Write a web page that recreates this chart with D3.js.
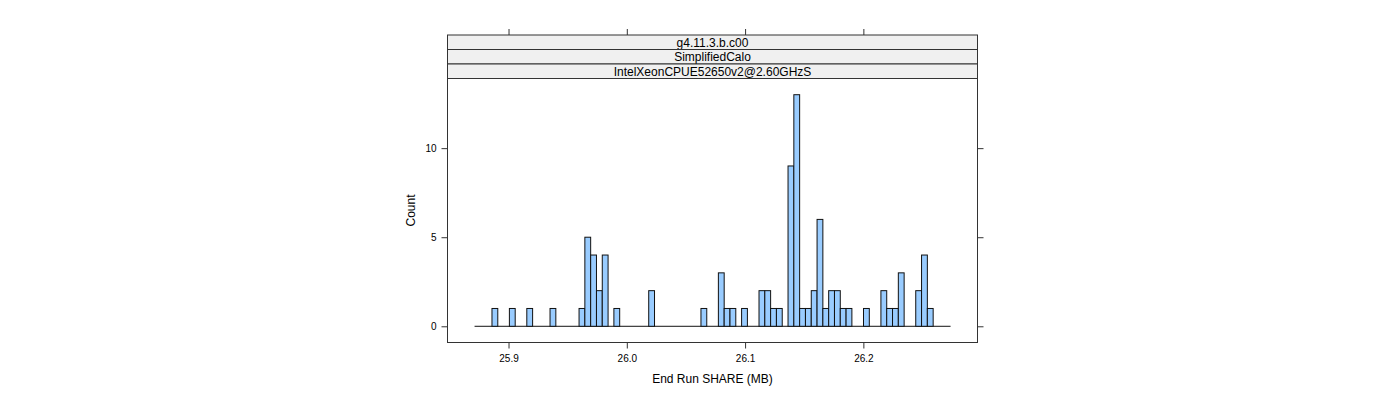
<!DOCTYPE html>
<html>
<head>
<meta charset="utf-8">
<script src="https://cdn.jsdelivr.net/npm/d3@7"></script>
<style>
  body { margin: 0; background: #fff; }
  svg { display: block; }
  text { font-family: "Liberation Sans", Arial, Helvetica, sans-serif; }
</style>
</head>
<body>
<svg id="chart" width="1400" height="400"></svg>
<script>
// ---- data ----
const stripLabels = ["g4.11.3.b.c00", "SimplifiedCalo", "IntelXeonCPUE52650v2@2.60GHzS"];
const binStart = 25.87128;      // left edge of first bin (MB)
const binWidth = 0.004908;      // bin width (MB)
const counts = [
  0, 0, 0, 1, 0, 0, 1, 0, 0, 1,
  0, 0, 0, 1, 0, 0, 0, 0, 1, 5,
  4, 2, 4, 0, 1, 0, 0, 0, 0, 0,
  2, 0, 0, 0, 0, 0, 0, 0, 0, 1,
  0, 0, 3, 1, 1, 0, 1, 0, 0, 2,
  2, 1, 1, 0, 9, 13, 1, 1, 2, 6,
  1, 2, 2, 1, 1, 0, 0, 1, 0, 0,
  2, 1, 1, 3, 0, 0, 2, 4, 1, 0,
  0, 0
];
const xTicks = [25.9, 26.0, 26.1, 26.2];
const yTicks = [0, 5, 10];
const xDomain = [25.8484, 26.2965];
const yDomain = [-0.91, 13.91];

// ---- layout ----
const panel = { left: 447.5, right: 977.5, top: 78.5, bottom: 342.5 };
const stripTop = 35;
const stripH = (panel.top - stripTop) / stripLabels.length;

const svg = d3.select("#chart");
const x = d3.scaleLinear().domain(xDomain).range([panel.left, panel.right]);
const y = d3.scaleLinear().domain(yDomain).range([panel.bottom, panel.top]);

const bins = counts.map((c, i) => ({ x0: binStart + i * binWidth, x1: binStart + (i + 1) * binWidth, n: c }));

// baseline formed by the zero-height bins
svg.append("line")
  .attr("x1", x(bins[0].x0)).attr("x2", x(bins[bins.length - 1].x1))
  .attr("y1", y(0)).attr("y2", y(0))
  .attr("stroke", "#111").attr("stroke-width", 1);

// bars
svg.append("g").selectAll("rect").data(bins.filter(d => d.n > 0)).join("rect")
  .attr("x", d => x(d.x0))
  .attr("width", d => x(d.x1) - x(d.x0))
  .attr("y", d => y(d.n))
  .attr("height", d => y(0) - y(d.n))
  .attr("fill", "#99ccff")
  .attr("stroke", "#111")
  .attr("stroke-width", 1);

// panel border
svg.append("rect")
  .attr("x", panel.left).attr("y", panel.top)
  .attr("width", panel.right - panel.left).attr("height", panel.bottom - panel.top)
  .attr("fill", "none").attr("stroke", "#333").attr("stroke-width", 1);

// strips
stripLabels.forEach((lab, i) => {
  const sy = stripTop + i * stripH;
  svg.append("rect")
    .attr("x", panel.left).attr("y", sy)
    .attr("width", panel.right - panel.left).attr("height", stripH)
    .attr("fill", "#f0f0f0").attr("stroke", "#333").attr("stroke-width", 1);
  svg.append("text")
    .attr("x", (panel.left + panel.right) / 2).attr("y", sy + stripH / 2)
    .attr("dy", "0.36em").attr("text-anchor", "middle")
    .attr("font-size", 12).attr("fill", "#000").text(lab);
});

// axes
const axB = svg.append("g").attr("transform", `translate(0,${panel.bottom})`)
  .call(d3.axisBottom(x).tickValues(xTicks).tickFormat(d3.format(".1f")).tickSizeOuter(0).tickSize(6).tickPadding(6));
const axT = svg.append("g").attr("transform", `translate(0,${stripTop})`)
  .call(d3.axisTop(x).tickValues(xTicks).tickFormat("").tickSizeOuter(0).tickSize(6));
const axL = svg.append("g").attr("transform", `translate(${panel.left},0)`)
  .call(d3.axisLeft(y).tickValues(yTicks).tickSizeOuter(0).tickSize(6).tickPadding(5));
const axR = svg.append("g").attr("transform", `translate(${panel.right},0)`)
  .call(d3.axisRight(y).tickValues(yTicks).tickFormat("").tickSizeOuter(0).tickSize(6));
[axB, axT, axL, axR].forEach(g => {
  g.select(".domain").remove();
  g.selectAll("line").attr("stroke", "#333");
  g.selectAll("text").attr("font-size", 10).attr("fill", "#000")
    .attr("font-family", '"Liberation Sans", Arial, sans-serif');
});

// axis titles
svg.append("text")
  .attr("x", (panel.left + panel.right) / 2).attr("y", 383)
  .attr("text-anchor", "middle").attr("font-size", 12).text("End Run SHARE (MB)");
svg.append("text")
  .attr("transform", `translate(415,${(panel.top + panel.bottom) / 2}) rotate(-90)`)
  .attr("text-anchor", "middle").attr("font-size", 12).text("Count");
</script>
</body>
</html>
